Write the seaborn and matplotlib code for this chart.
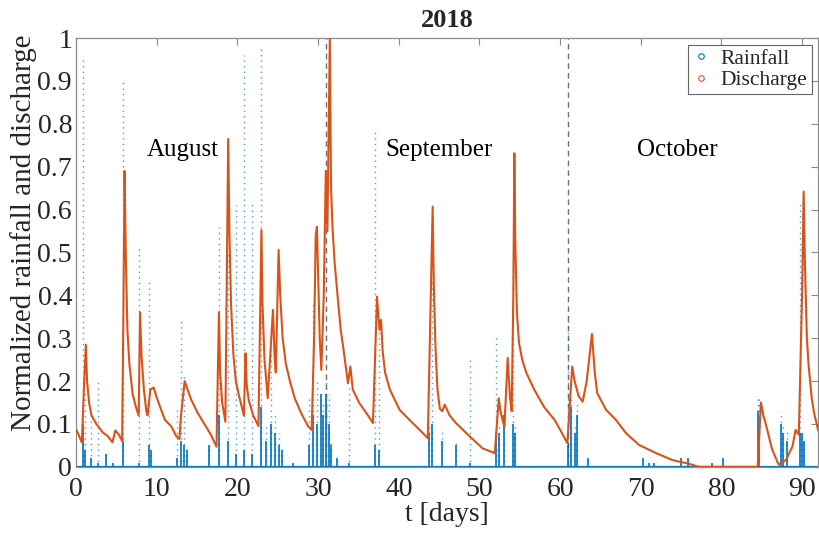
import matplotlib
matplotlib.use("Agg")
import matplotlib.pyplot as plt
import seaborn as sns
from matplotlib.lines import Line2D

sns.set_style("white")
plt.rcParams["font.family"] = ["Liberation Serif", "DejaVu Serif"]

# normalized discharge (t in days)
dis_t = [0.0, 0.3, 0.7, 1.0, 1.2, 1.35, 1.6, 1.9, 2.5, 3.3, 3.9, 4.5, 4.85, 5.3, 5.7,
         5.85, 6.0, 6.15, 6.35, 6.6, 7.0, 7.4, 7.75, 7.92, 8.1, 8.4, 8.7, 8.85, 9.2,
         9.6, 10.2, 11.0, 11.8, 12.4, 12.8, 13.0, 13.45, 14.25, 15.06, 15.9, 16.7,
         17.4, 17.7, 17.85, 18.1, 18.5, 18.85, 19.0, 19.2, 19.5, 19.8, 20.2, 20.8,
         21.0, 21.15, 21.4, 21.95, 22.6, 22.97, 23.1, 23.35, 23.75, 24.4, 24.6, 24.75,
         25.1, 25.3, 25.6, 26.0, 26.5, 27.1, 27.9, 28.75, 29.2, 29.5, 29.7, 29.85,
         30.0, 30.2, 30.4, 30.7, 30.95, 31.15, 31.45, 31.6, 31.8, 32.05, 32.5, 32.8,
         33.1, 33.7, 34.0, 34.3, 35.1, 36.0, 36.8, 37.3, 37.6, 37.8, 38.0, 38.3, 38.9,
         40.1, 41.3, 42.6, 43.6, 44.2, 44.35, 44.55, 44.8, 45.1, 45.4, 45.7, 46.3,
         47.1, 48.8, 50.4, 51.9, 52.4, 52.6, 53.0, 53.1, 53.5, 53.8, 54.0, 54.2, 54.33,
         54.45, 54.65, 54.9, 55.3, 55.8, 56.8, 58.0, 59.3, 60.2, 60.9, 61.5, 61.8,
         62.3, 62.8, 63.3, 63.95, 64.3, 64.6, 65.7, 66.9, 68.2, 69.8, 71.9, 73.9, 76.0,
         77.2, 84.5, 84.9, 85.2, 85.5, 86.3, 87.1, 88.0, 88.8, 89.2, 89.6, 90.0, 90.2,
         90.35, 90.6, 90.8, 91.2, 91.5, 92.0]
dis_v = [0.087, 0.075, 0.057, 0.20, 0.285, 0.20, 0.15, 0.12, 0.10, 0.08, 0.072, 0.057,
         0.085, 0.075, 0.06, 0.35, 0.69, 0.50, 0.32, 0.24, 0.17, 0.14, 0.12, 0.36, 0.26,
         0.18, 0.13, 0.12, 0.18, 0.185, 0.15, 0.11, 0.094, 0.072, 0.065, 0.12, 0.20,
         0.157, 0.126, 0.10, 0.075, 0.047, 0.36, 0.22, 0.15, 0.105, 0.765, 0.55, 0.38,
         0.26, 0.20, 0.165, 0.12, 0.265, 0.19, 0.155, 0.12, 0.095, 0.552, 0.38, 0.25,
         0.16, 0.366, 0.26, 0.22, 0.506, 0.40, 0.30, 0.24, 0.20, 0.16, 0.125, 0.095,
         0.086, 0.30, 0.54, 0.56, 0.45, 0.30, 0.226, 0.40, 0.69, 0.55, 1.0, 0.65, 0.552,
         0.475, 0.38, 0.32, 0.28, 0.195, 0.234, 0.18, 0.149, 0.125, 0.102, 0.397, 0.32,
         0.343, 0.27, 0.22, 0.18, 0.133, 0.11, 0.086, 0.067, 0.607, 0.42, 0.28, 0.18,
         0.135, 0.13, 0.145, 0.12, 0.102, 0.071, 0.043, 0.032, 0.16, 0.13, 0.10, 0.094,
         0.254, 0.16, 0.13, 0.40, 0.731, 0.52, 0.36, 0.29, 0.25, 0.22, 0.18, 0.14, 0.11,
         0.08, 0.055, 0.234, 0.20, 0.165, 0.152, 0.20, 0.31, 0.22, 0.172, 0.133, 0.11,
         0.078, 0.051, 0.032, 0.016, 0.007, 0.0, 0.0, 0.15, 0.12, 0.10, 0.04, 0.005,
         0.016, 0.047, 0.086, 0.075, 0.40, 0.642, 0.48, 0.30, 0.24, 0.16, 0.125, 0.085]

# rainfall events: time, top of the sparse column, height of the dense part
rain_t = [0.8, 1.05, 1.8, 2.75, 3.7, 4.6, 5.85, 7.75, 9.0, 9.3, 12.5, 13.05, 13.4, 13.7,
          16.5, 17.65, 18.8, 19.8, 20.8, 21.8, 22.9, 23.5, 24.2, 24.6, 25.1, 25.5, 26.9,
          28.9, 29.4, 29.9, 30.3, 30.6, 31.0, 31.3, 31.6, 32.4, 33.8, 37.0, 37.5, 43.7,
          44.1, 45.4, 47.1, 48.8, 52.1, 52.4, 53.1, 54.1, 54.4, 61.0, 61.4, 61.8, 62.1,
          63.4, 70.3, 71.0, 71.6, 75.0, 75.8, 78.8, 80.2, 84.5, 84.7, 87.4, 87.7, 88.1,
          89.7, 90.0, 90.3]
rain_top = [0.95, 0.18, 0.12, 0.20, 0.03, 0.01, 0.90, 0.51, 0.43, 0.04, 0.14, 0.35, 0.22,
            0.05, 0.05, 0.56, 0.50, 0.61, 0.96, 0.62, 0.98, 0.10, 0.30, 0.12, 0.08, 0.05,
            0.01, 0.16, 0.38, 0.20, 0.18, 0.15, 0.20, 0.17, 0.06, 0.02, 0.19, 0.79, 0.34,
            0.10, 0.44, 0.09, 0.06, 0.25, 0.31, 0.10, 0.14, 0.50, 0.10, 0.36, 0.16, 0.10,
            0.15, 0.02, 0.02, 0.01, 0.01, 0.02, 0.02, 0.01, 0.02, 0.16, 0.16, 0.13, 0.10,
            0.09, 0.62, 0.08, 0.06]
rain_dense = [0.10, 0.04, 0.02, 0.01, 0.03, 0.01, 0.06, 0.01, 0.05, 0.04, 0.02, 0.06, 0.05,
              0.04, 0.05, 0.12, 0.06, 0.03, 0.04, 0.03, 0.14, 0.06, 0.10, 0.08, 0.05, 0.04,
              0.01, 0.05, 0.12, 0.10, 0.17, 0.12, 0.17, 0.10, 0.05, 0.02, 0.01, 0.05, 0.04,
              0.08, 0.10, 0.06, 0.05, 0.01, 0.08, 0.08, 0.12, 0.10, 0.08, 0.05, 0.14, 0.08,
              0.12, 0.02, 0.02, 0.01, 0.01, 0.02, 0.02, 0.01, 0.02, 0.13, 0.10, 0.10, 0.08,
              0.06, 0.08, 0.08, 0.06]

months = ["August", "September", "October"]
month_x = [13.2, 45.0, 74.5]
month_y = [0.74, 0.74, 0.74]
month_ends = [31, 61]

BLUE = "#0072BD"
ORANGE = "#D95319"
GREY = "#8c8c8c"

fig = plt.figure(figsize=(8.19, 5.36), dpi=100)
ax = fig.add_axes([0.093, 0.129, 0.906, 0.800])

# rainfall
ax.axhline(0, color=BLUE, lw=1.6, zorder=2)
ax.vlines(rain_t, 0, rain_dense, color=BLUE, lw=1.2, zorder=2)
ax.vlines(rain_t, 0, rain_top, color=BLUE, lw=1.0, linestyles=(0, (1, 3)),
          alpha=0.7, zorder=2)

# discharge
sns.lineplot(x=dis_t, y=dis_v, ax=ax, color=ORANGE, lw=1.5, zorder=3)

for m in month_ends:
    ax.axvline(m, color="#707070", lw=1.0, ls=(0, (4, 3)), zorder=1)

for name, mx, my in zip(months, month_x, month_y):
    ax.text(mx, my, name, ha="center", va="center", fontsize=18, color="black")

ax.set_xlim(0, 92)
ax.set_ylim(0, 1)
ax.set_xticks(range(0, 91, 10))
yt = [i / 10 for i in range(11)]
ax.set_yticks(yt)
ax.set_yticklabels([f"{v:g}" for v in yt])
ax.tick_params(direction="in", top=True, right=True, length=5, width=0.8,
               color=GREY, labelcolor="#262626", labelsize=20)
ax.tick_params(axis="x", pad=7)
ax.tick_params(axis="y", pad=3)
for sp in ax.spines.values():
    sp.set_color(GREY)
    sp.set_linewidth(0.9)

ax.set_xlabel("t [days]", fontsize=20, color="#262626", labelpad=0)
ax.set_ylabel("Normalized rainfall and discharge", fontsize=21, color="#262626")
ax.yaxis.set_label_coords(-0.053, 0.545)
ax.set_title("2018", fontsize=19, fontweight="bold", pad=8)

handles = [
    Line2D([], [], marker="o", ls="none", mfc="none", mec=BLUE, ms=4, mew=0.8),
    Line2D([], [], marker="o", ls="none", mfc="none", mec=ORANGE, ms=4, mew=0.8),
]
leg = ax.legend(handles, ["Rainfall", "Discharge"], loc="upper right", fontsize=15.5,
                frameon=True, fancybox=False, borderaxespad=0.3, handlelength=0.8,
                handletextpad=0.5, borderpad=0.2, labelspacing=0.05)
leg.get_frame().set_edgecolor("#404040")
leg.get_frame().set_linewidth(0.8)

fig.savefig("out.png", dpi=100)
